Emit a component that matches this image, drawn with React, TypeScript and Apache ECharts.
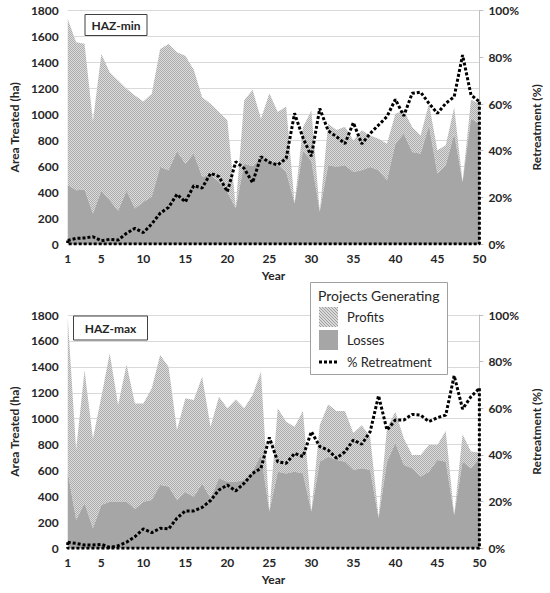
import React, { useEffect, useRef } from "react";
import * as echarts from "echarts";

const years: string[] = Array.from({ length: 50 }, (_, i) => String(i + 1));

// HAZ-min (top panel)
const minLosses = [
  455, 415, 420, 236, 410, 338, 256, 410, 274, 325,
  364, 594, 569, 715, 620, 697, 519, 530, 480, 400,
  275, 620, 600, 670, 648, 610, 558, 313, 720, 640,
  250, 608, 595, 608, 556, 569, 595, 569, 492, 774,
  851, 710, 697, 915, 544, 608, 851, 479, 967, 928,
];
const minProfits = [
  1281, 1141, 1125, 712, 1056, 987, 1005, 787, 872, 775,
  795, 911, 974, 765, 833, 648, 614, 552, 538, 554,
  12, 487, 590, 297, 516, 408, 503, 0, 180, 390,
  0, 320, 285, 297, 244, 308, 243, 244, 282, 231,
  179, 192, 141, 167, 179, 153, 205, 0, 146, 154,
];
const minRetreat = [
  1.5, 2.4, 2.6, 3.1, 1.4, 2.0, 1.7, 4.6, 6.7, 4.9,
  8.6, 13.2, 15.7, 21.3, 18.0, 25.0, 24.0, 30.3, 28.9, 22.4,
  35.3, 32.4, 26.3, 37.4, 35.0, 33.9, 36.7, 56.0, 45.5, 37.6,
  58.1, 48.5, 46.0, 43.0, 52.0, 42.9, 47.4, 51.0, 54.6, 62.0,
  54.9, 64.6, 65.1, 60.3, 56.0, 60.3, 63.1, 81.0, 63.9, 61.0,
];

// HAZ-max (bottom panel)
const maxLosses = [
  591, 219, 347, 154, 334, 360, 360, 360, 303, 360,
  373, 489, 476, 373, 432, 398, 500, 386, 540, 514,
  514, 527, 591, 720, 283, 591, 578, 591, 578, 283,
  668, 707, 681, 668, 604, 617, 604, 231, 668, 810,
  643, 617, 553, 591, 681, 668, 257, 668, 617, 694,
];
const maxProfits = [
  1189, 539, 1029, 694, 836, 1144, 746, 1059, 815, 758,
  861, 1002, 925, 540, 725, 746, 824, 552, 630, 566,
  635, 553, 592, 643, 0, 489, 399, 347, 481, 0,
  283, 403, 379, 392, 286, 333, 256, 13, 258, 244,
  206, 103, 167, 206, 116, 237, 0, 211, 129, 46,
];
const maxRetreat = [
  2.6, 2.1, 1.4, 1.4, 1.7, 0.4, 1.1, 2.6, 5.0, 8.3,
  6.7, 8.6, 8.3, 12.9, 16.0, 16.0, 17.5, 20.5, 25.0, 27.1,
  24.6, 27.9, 32.1, 34.3, 47.5, 37.1, 36.4, 40.7, 39.3, 50.0,
  43.6, 42.1, 38.6, 41.4, 46.4, 44.6, 50.0, 65.4, 50.7, 55.0,
  55.0, 57.4, 57.1, 54.3, 56.0, 57.1, 74.0, 59.7, 65.0, 68.6,
];

const panelTitles = ["HAZ-min", "HAZ-max"];
const legendTitle = "Projects Generating";
const legendNames = ["Profits", "Losses", "% Retreatment"];

const FONT = "Lato, 'Liberation Sans', sans-serif";
const TXT = "#262626";
const LOSS = "#a6a6a6";
const DASH = [3, 2];

function makePattern(size: number, light: string, dark: string) {
  const c = document.createElement("canvas");
  c.width = size;
  c.height = size;
  const ctx = c.getContext("2d")!;
  ctx.fillStyle = light;
  ctx.fillRect(0, 0, size, size);
  ctx.fillStyle = dark;
  for (let i = 0; i < size; i++) ctx.fillRect(i, i, 1, 1);
  return { image: c, repeat: "repeat", imageWidth: size, imageHeight: size } as any;
}

export default function App() {
  const ref = useRef<HTMLDivElement>(null);

  useEffect(() => {
    if (!ref.current) return;
    const chart = echarts.init(ref.current, undefined, { renderer: "svg" });
    const areaPattern = makePattern(2, "#dcdcdc", "#acacac");
    const swatchPattern = makePattern(3, "#dadada", "#9e9e9e");

    const panels = [
      { top: 10.7, losses: minLosses, profits: minProfits, retreat: minRetreat },
      { top: 315, losses: maxLosses, profits: maxProfits, retreat: maxRetreat },
    ];

    const grid = panels.map((p) => ({ left: 64, right: 62, top: p.top, height: 233.3 }));

    const xAxis = panels.map((_, i) => ({
      gridIndex: i,
      type: "category",
      data: years,
      boundaryGap: false,
      name: "Year",
      nameLocation: "middle",
      nameGap: 25,
      nameTextStyle: { fontWeight: "bold", fontSize: 12, color: TXT, fontFamily: FONT },
      axisLabel: {
        interval: (idx: number, val: string) => idx === 0 || Number(val) % 5 === 0,
        fontWeight: "bold",
        fontSize: 12,
        color: TXT,
        fontFamily: FONT,
        margin: 8,
      },
      axisTick: { show: false },
      axisLine: { show: true, lineStyle: { color: "#d9d9d9" } },
      splitLine: { show: false },
    }));

    const yAxis: any[] = [];
    panels.forEach((_, i) => {
      yAxis.push({
        gridIndex: i,
        type: "value",
        position: "left",
        min: 0,
        max: 1800,
        interval: 200,
        name: "Area Treated (ha)",
        nameLocation: "middle",
        nameGap: 43,
        nameRotate: 90,
        nameTextStyle: { fontWeight: "bold", fontSize: 12, color: TXT, fontFamily: FONT },
        axisLabel: {
          formatter: (v: number) => String(v),
          fontWeight: "bold",
          fontSize: 12,
          color: TXT,
          fontFamily: FONT,
          margin: 9,
        },
        axisLine: { show: false },
        axisTick: { show: false },
        splitLine: { show: true, lineStyle: { color: "#d9d9d9", width: 1 } },
      });
      yAxis.push({
        gridIndex: i,
        type: "value",
        position: "right",
        min: 0,
        max: 100,
        interval: 20,
        name: "Retreatment (%)",
        nameLocation: "middle",
        nameGap: 49,
        nameRotate: 90,
        nameTextStyle: { fontWeight: "bold", fontSize: 12, color: TXT, fontFamily: FONT },
        axisLabel: { formatter: "{value}%", fontWeight: "bold", fontSize: 12, color: TXT, fontFamily: FONT, margin: 9 },
        axisLine: { show: true, lineStyle: { color: "#bfbfbf" } },
        axisTick: { show: true, inside: false, length: 4, lineStyle: { color: "#bfbfbf" } },
        splitLine: { show: false },
      });
    });

    const series: any[] = [];
    panels.forEach((p, i) => {
      series.push({
        name: "Losses",
        type: "line",
        xAxisIndex: i,
        yAxisIndex: 2 * i,
        stack: "area" + i,
        data: p.losses,
        symbol: "none",
        lineStyle: { width: 0 },
        itemStyle: { color: LOSS },
        areaStyle: { color: LOSS, opacity: 1 },
        z: 2,
      });
      series.push({
        name: "Profits",
        type: "line",
        xAxisIndex: i,
        yAxisIndex: 2 * i,
        stack: "area" + i,
        data: p.profits,
        symbol: "none",
        lineStyle: { width: 0 },
        itemStyle: { color: "#c4c4c4" },
        areaStyle: { color: areaPattern, opacity: 1 },
        z: 1,
      });
      series.push({
        name: "% Retreatment",
        type: "line",
        xAxisIndex: i,
        yAxisIndex: 2 * i + 1,
        data: p.retreat,
        symbol: "none",
        lineStyle: { color: "#000", width: 3, type: DASH, cap: "butt" },
        z: 5,
      });
      const last = years.length - 1;
      series.push({
        name: "% Retreatment outline",
        type: "line",
        xAxisIndex: i,
        yAxisIndex: 2 * i + 1,
        data: [
          [years[last], p.retreat[last]],
          [years[last], 0],
          [years[0], 0],
          [years[0], p.retreat[0]],
        ],
        symbol: "none",
        lineStyle: { color: "#000", width: 3, type: DASH, cap: "butt" },
        z: 5,
      });
    });

    const graphic: any[] = [
      {
        type: "rect",
        z: 100,
        shape: { x: 85, y: 14.5, width: 62, height: 21 },
        style: { fill: "#fff", stroke: "#404040", lineWidth: 1 },
      },
      {
        type: "text",
        z: 101,
        x: 116,
        y: 25,
        style: { text: panelTitles[0], align: "center", verticalAlign: "middle", font: `bold 12px ${FONT}`, fill: TXT },
      },
      {
        type: "rect",
        z: 100,
        shape: { x: 73.5, y: 316, width: 74, height: 24 },
        style: { fill: "#fff", stroke: "#404040", lineWidth: 1 },
      },
      {
        type: "text",
        z: 101,
        x: 110.5,
        y: 328,
        style: { text: panelTitles[1], align: "center", verticalAlign: "middle", font: `bold 12px ${FONT}`, fill: TXT },
      },
      {
        type: "rect",
        z: 100,
        shape: { x: 310.5, y: 282.5, width: 137, height: 92 },
        style: { fill: "#fff", stroke: "#a0a0a0", lineWidth: 1 },
      },
      {
        type: "text",
        z: 101,
        x: 318,
        y: 295,
        style: { text: legendTitle, align: "left", verticalAlign: "middle", font: `14px ${FONT}`, fill: TXT },
      },
      {
        type: "rect",
        z: 101,
        shape: { x: 319, y: 307, width: 19, height: 20 },
        style: { fill: swatchPattern },
      },
      {
        type: "rect",
        z: 101,
        shape: { x: 319, y: 330, width: 19, height: 20 },
        style: { fill: LOSS },
      },
      {
        type: "line",
        z: 101,
        shape: { x1: 319, y1: 362, x2: 338, y2: 362 },
        style: { stroke: "#000", lineWidth: 3, lineDash: DASH },
      },
      ...legendNames.map((n, k) => ({
        type: "text",
        z: 101,
        x: 347,
        y: [317, 340, 362][k],
        style: { text: n, align: "left", verticalAlign: "middle", font: `13px ${FONT}`, fill: TXT },
      })),
    ];

    chart.setOption({
      animation: false,
      backgroundColor: "#fff",
      grid,
      xAxis,
      yAxis,
      series,
      graphic,
    } as any);

    return () => chart.dispose();
  }, []);

  return (
    <div
      ref={ref}
      style={{ position: "fixed", left: 0, top: 0, width: 550, height: 593, background: "#fff" }}
    />
  );
}
